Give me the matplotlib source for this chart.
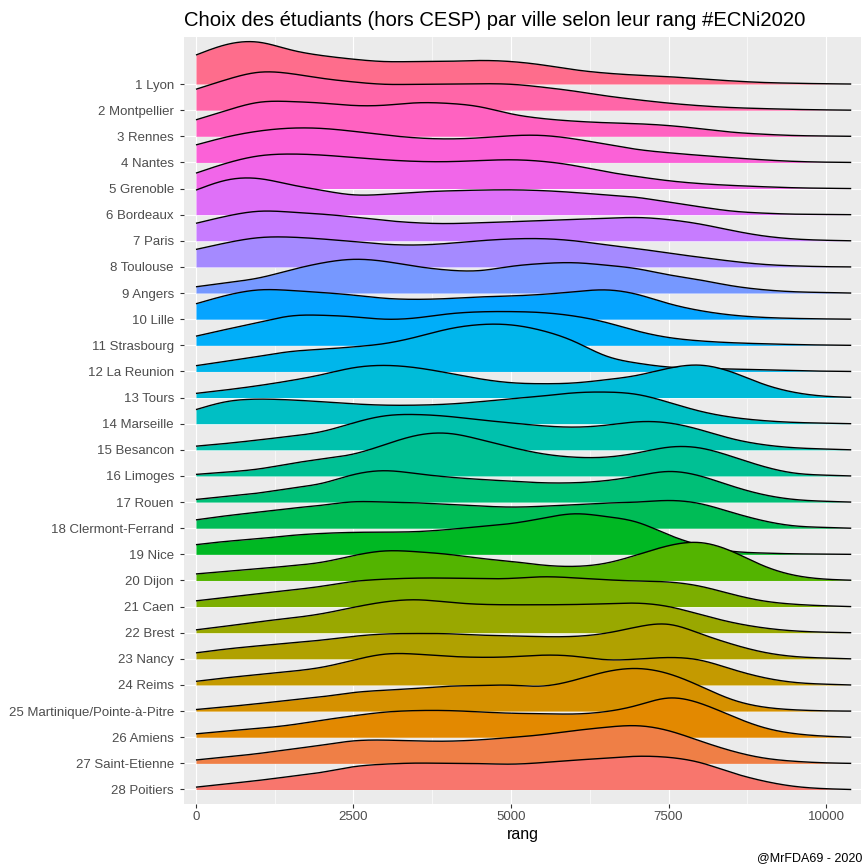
import numpy as np
import matplotlib
matplotlib.use("Agg")
import matplotlib.pyplot as plt

plt.rcParams['font.family'] = ['Liberation Sans', 'DejaVu Sans']

# ---------------- data ----------------
villes = ["1 Lyon", "2 Montpellier", "3 Rennes", "4 Nantes", "5 Grenoble",
          "6 Bordeaux", "7 Paris", "8 Toulouse", "9 Angers", "10 Lille",
          "11 Strasbourg", "12 La Reunion", "13 Tours", "14 Marseille",
          "15 Besancon", "16 Limoges", "17 Rouen", "18 Clermont-Ferrand",
          "19 Nice", "20 Dijon", "21 Caen", "22 Brest", "23 Nancy", "24 Reims",
          "25 Martinique/Pointe-à-Pitre", "26 Amiens", "27 Saint-Etienne",
          "28 Poitiers"]

# rank grid at which the ridge heights were read
rang_grille = [0, 500, 1000, 1500, 2000, 2500, 3000, 3500, 4000, 4500, 5000,
               5500, 6000, 6500, 7000, 7500, 8000, 8500, 9000, 9500, 10000, 10400]

# relative density heights (scaled ridge heights, in row units)
d_lyon = [1.11, 1.52, 1.60, 1.31, 1.09, 0.95, 0.86, 0.86, 0.87, 0.90, 0.86,
          0.73, 0.55, 0.42, 0.34, 0.28, 0.20, 0.12, 0.06, 0.03, 0.01, 0.0]
d_montpellier = [0.80, 1.18, 1.45, 1.40, 1.22, 1.08, 0.99, 0.99, 1.00, 1.01, 0.99,
                 0.88, 0.73, 0.55, 0.40, 0.27, 0.17, 0.10, 0.06, 0.03, 0.01, 0.0]
d_rennes = [0.63, 1.00, 1.30, 1.33, 1.27, 1.18, 1.19, 1.28, 1.26, 1.13, 0.86,
            0.68, 0.58, 0.52, 0.48, 0.41, 0.29, 0.16, 0.08, 0.03, 0.01, 0.0]
d_nantes = [0.67, 0.98, 1.20, 1.31, 1.30, 1.19, 1.05, 0.94, 0.90, 0.94, 1.02,
            1.03, 0.90, 0.70, 0.50, 0.37, 0.27, 0.18, 0.10, 0.04, 0.01, 0.0]
d_grenoble = [0.59, 0.98, 1.25, 1.32, 1.28, 1.19, 1.10, 1.04, 1.03, 1.07, 1.10,
              1.04, 0.88, 0.65, 0.46, 0.30, 0.19, 0.12, 0.07, 0.03, 0.01, 0.0]
d_bordeaux = [0.94, 1.33, 1.38, 1.15, 0.93, 0.76, 0.78, 0.86, 0.91, 0.94, 0.95,
              0.92, 0.85, 0.76, 0.66, 0.48, 0.30, 0.14, 0.06, 0.02, 0.01, 0.0]
d_paris = [0.67, 0.95, 1.13, 1.10, 1.02, 0.91, 0.78, 0.69, 0.66, 0.69, 0.73,
           0.78, 0.82, 0.86, 0.89, 0.81, 0.64, 0.40, 0.19, 0.07, 0.02, 0.0]
d_toulouse = [0.67, 0.93, 1.12, 1.14, 1.07, 0.97, 0.87, 0.84, 0.90, 1.00, 1.07,
              1.08, 1.00, 0.85, 0.70, 0.53, 0.37, 0.22, 0.10, 0.04, 0.01, 0.0]
d_angers = [0.24, 0.40, 0.58, 0.88, 1.15, 1.29, 1.21, 1.02, 0.88, 0.86, 1.02,
            1.13, 1.16, 1.07, 0.93, 0.70, 0.50, 0.28, 0.13, 0.05, 0.02, 0.0]
d_lille = [0.59, 0.92, 1.12, 1.10, 1.02, 0.92, 0.80, 0.76, 0.79, 0.85, 0.89,
           0.95, 1.05, 1.12, 0.95, 0.60, 0.33, 0.16, 0.07, 0.03, 0.01, 0.0]
d_strasbourg = [0.35, 0.62, 0.88, 1.12, 1.15, 1.09, 1.00, 1.05, 1.20, 1.28, 1.29,
                1.25, 1.12, 0.88, 0.55, 0.30, 0.17, 0.10, 0.06, 0.03, 0.01, 0.0]
d_reunion = [0.22, 0.40, 0.58, 0.76, 0.85, 0.94, 1.07, 1.32, 1.62, 1.79, 1.78,
             1.56, 1.15, 0.60, 0.32, 0.17, 0.12, 0.09, 0.06, 0.03, 0.01, 0.0]
d_tours = [0.16, 0.30, 0.46, 0.65, 0.88, 1.14, 1.23, 1.14, 0.94, 0.72, 0.57,
           0.53, 0.56, 0.68, 0.85, 1.12, 1.24, 0.98, 0.52, 0.20, 0.05, 0.01]
d_marseille = [0.54, 0.85, 0.94, 0.91, 0.84, 0.76, 0.71, 0.71, 0.75, 0.84, 0.95,
               1.06, 1.18, 1.21, 1.12, 0.82, 0.48, 0.25, 0.12, 0.05, 0.02, 0.0]
d_besancon = [0.14, 0.25, 0.38, 0.52, 0.70, 1.03, 1.30, 1.35, 1.28, 1.15, 1.03,
              0.92, 0.87, 0.94, 1.07, 1.03, 0.77, 0.43, 0.20, 0.08, 0.03, 0.0]
d_limoges = [0.06, 0.15, 0.27, 0.47, 0.65, 0.84, 1.20, 1.55, 1.63, 1.40, 1.10,
             0.85, 0.72, 0.72, 0.88, 1.10, 1.07, 0.75, 0.37, 0.11, 0.03, 0.0]
d_rouen = [0.10, 0.22, 0.35, 0.53, 0.72, 1.05, 1.20, 1.09, 0.96, 0.87, 0.80,
           0.74, 0.74, 0.82, 1.00, 1.17, 1.00, 0.62, 0.29, 0.10, 0.03, 0.0]
d_clermont = [0.32, 0.48, 0.62, 0.76, 0.88, 1.01, 1.00, 0.97, 0.91, 0.85, 0.81,
              0.84, 0.90, 0.96, 1.00, 1.06, 0.94, 0.61, 0.29, 0.09, 0.03, 0.0]
d_nice = [0.37, 0.50, 0.60, 0.72, 0.80, 0.84, 0.85, 0.87, 0.95, 1.06, 1.18,
          1.38, 1.55, 1.45, 1.23, 0.75, 0.35, 0.12, 0.05, 0.02, 0.01, 0.0]
d_dijon = [0.25, 0.35, 0.45, 0.56, 0.70, 0.95, 1.13, 1.10, 1.00, 0.85, 0.73,
           0.59, 0.54, 0.66, 0.98, 1.33, 1.45, 1.12, 0.57, 0.20, 0.05, 0.01]
d_caen = [0.22, 0.36, 0.50, 0.63, 0.78, 0.96, 1.05, 1.09, 1.09, 1.07, 1.08,
          1.14, 1.10, 1.03, 0.98, 0.94, 0.78, 0.48, 0.22, 0.09, 0.03, 0.0]
d_brest = [0.11, 0.26, 0.42, 0.56, 0.73, 0.97, 1.18, 1.26, 1.17, 1.09, 1.07,
           1.07, 1.08, 1.11, 1.13, 1.00, 0.70, 0.40, 0.19, 0.07, 0.02, 0.0]
d_nancy = [0.23, 0.38, 0.50, 0.61, 0.72, 0.86, 0.95, 0.97, 0.96, 0.91, 0.88,
           0.85, 0.86, 0.98, 1.22, 1.32, 0.97, 0.57, 0.26, 0.09, 0.03, 0.0]
d_reims = [0.14, 0.28, 0.40, 0.52, 0.68, 0.95, 1.18, 1.18, 1.10, 1.06, 1.08,
           1.14, 1.10, 0.97, 0.99, 1.05, 0.95, 0.61, 0.29, 0.10, 0.03, 0.0]
d_martinique = [0.06, 0.17, 0.29, 0.42, 0.55, 0.71, 0.80, 0.87, 0.95, 0.98, 0.99,
                0.96, 1.18, 1.50, 1.63, 1.43, 0.96, 0.45, 0.16, 0.05, 0.01, 0.0]
d_amiens = [0.13, 0.24, 0.34, 0.47, 0.65, 0.82, 0.96, 1.02, 1.02, 0.97, 0.92,
            0.90, 0.89, 0.98, 1.22, 1.50, 1.30, 0.82, 0.38, 0.14, 0.04, 0.0]
d_saint_etienne = [0.13, 0.25, 0.38, 0.54, 0.70, 0.86, 0.89, 0.86, 0.85, 0.90, 0.99,
                   1.10, 1.25, 1.38, 1.44, 1.25, 0.86, 0.48, 0.21, 0.08, 0.02, 0.0]
d_poitiers = [0.09, 0.22, 0.35, 0.50, 0.66, 0.87, 0.97, 1.01, 1.00, 0.99, 0.97,
              1.03, 1.12, 1.20, 1.27, 1.23, 1.03, 0.65, 0.33, 0.12, 0.03, 0.0]

densites = [d_lyon, d_montpellier, d_rennes, d_nantes, d_grenoble, d_bordeaux,
            d_paris, d_toulouse, d_angers, d_lille, d_strasbourg, d_reunion,
            d_tours, d_marseille, d_besancon, d_limoges, d_rouen, d_clermont,
            d_nice, d_dijon, d_caen, d_brest, d_nancy, d_reims, d_martinique,
            d_amiens, d_saint_etienne, d_poitiers]

x_ticks = [0, 2500, 5000, 7500, 10000]
x_tick_labels = ["0", "2500", "5000", "7500", "10000"]
titre = "Choix des étudiants (hors CESP) par ville selon leur rang #ECNi2020"
legende_x = "rang"
credit = "@MrFDA69 - 2020"


# ---------------- helpers ----------------
def natural_spline(x, y, xn):
    """Smooth drawing curve through the read points (natural cubic spline)."""
    x = np.asarray(x, float)
    y = np.asarray(y, float)
    n = len(x)
    h = np.diff(x)
    delta = np.diff(y) / h
    A = np.zeros((n, n))
    rhs = np.zeros(n)
    A[0, 0] = A[-1, -1] = 1.0
    for i in range(1, n - 1):
        A[i, i - 1] = h[i - 1]
        A[i, i] = 2 * (h[i - 1] + h[i])
        A[i, i + 1] = h[i]
        rhs[i] = 6 * (delta[i] - delta[i - 1])
    M = np.linalg.solve(A, rhs)
    idx = np.clip(np.searchsorted(x, xn) - 1, 0, n - 2)
    hi = h[idx]
    a = x[idx + 1] - xn
    b = xn - x[idx]
    return (M[idx] * a**3 / (6 * hi) + M[idx + 1] * b**3 / (6 * hi)
            + (y[idx] / hi - M[idx] * hi / 6) * a
            + (y[idx + 1] / hi - M[idx + 1] * hi / 6) * b)


def hcl(hue, c=100.0, l=65.0):
    hr = np.deg2rad(hue)
    U, V = c * np.cos(hr), c * np.sin(hr)
    Xn, Yn, Zn = 95.047, 100.0, 108.883
    Y = Yn * ((l + 16) / 116) ** 3 if l > 7.999592 else Yn * l / 903.3
    den = Xn + 15 * Yn + 3 * Zn
    un, vn = 4 * Xn / den, 9 * Yn / den
    u = U / (13 * l) + un
    v = V / (13 * l) + vn
    X = 9.0 * Y * u / (4 * v)
    Z = -X / 3 - 5 * Y + 3 * Y / v
    def g(t):
        return 1.055 * t ** (1 / 2.4) - 0.055 if t > 0.00304 else 12.92 * t
    r = g((3.240479 * X - 1.537150 * Y - 0.498535 * Z) / Yn)
    gg = g((-0.969256 * X + 1.875992 * Y + 0.041556 * Z) / Yn)
    b = g((0.055648 * X - 0.204043 * Y + 1.057311 * Z) / Yn)
    return tuple(float(np.clip(cc, 0, 1)) for cc in (r, gg, b))


# ---------------- figure ----------------
W = H = 866
fig = plt.figure(figsize=(W / 100, H / 100), dpi=100)
left, right, top, bottom = 184, 861, 37, 804
ax = fig.add_axes([left / W, (H - bottom) / H, (right - left) / W, (bottom - top) / H])
ax.set_facecolor("#EBEBEB")
for s in ax.spines.values():
    s.set_visible(False)

n = len(villes)
hues = np.linspace(15, 375, n + 1)[:-1]
xs = np.linspace(rang_grille[0], rang_grille[-1], 800)

for i, (ville, dens) in enumerate(zip(villes, densites)):
    base = n - i              # Lyon at top (28), Poitiers at bottom (1)
    col = hcl(hues[base - 1])
    ys = np.maximum(natural_spline(rang_grille, dens, xs), 0)
    ax.fill_between(xs, base, base + ys, color=col, lw=0, zorder=2 + i)
    ax.plot(xs, base + ys, color="black", lw=1.0, zorder=2 + i + 0.5,
            solid_capstyle="butt")

ax.set_xlim(-190, 10555)
ax.set_ylim(0.445, 29.8)

ax.set_xticks(x_ticks)
ax.set_xticklabels(x_tick_labels)
ax.set_xticks([1250, 3750, 6250, 8750], minor=True)
ax.set_yticks(range(1, n + 1))
ax.set_yticklabels(villes[::-1])

ax.grid(which="major", color="white", lw=0.85, zorder=0)
ax.grid(which="minor", axis="x", color="white", lw=0.45, zorder=0)
ax.set_axisbelow(True)

ax.tick_params(axis="both", which="major", length=2.7, width=0.8, color="#333333",
               labelcolor="#4D4D4D", labelsize=9.5)
ax.tick_params(axis="y", pad=4.5)
ax.tick_params(axis="x", pad=2.5)
ax.tick_params(axis="both", which="minor", length=0)

ax.set_xlabel(legende_x, fontsize=11.5, color="black", labelpad=3)

fig.text(left / W, 1 - 20 / H, titre, fontsize=14.6, color="black",
         ha="left", va="center")
fig.text(862 / W, 1 - 858 / H, credit, fontsize=9, color="black",
         ha="right", va="center")

fig.savefig("out.png", dpi=100)
